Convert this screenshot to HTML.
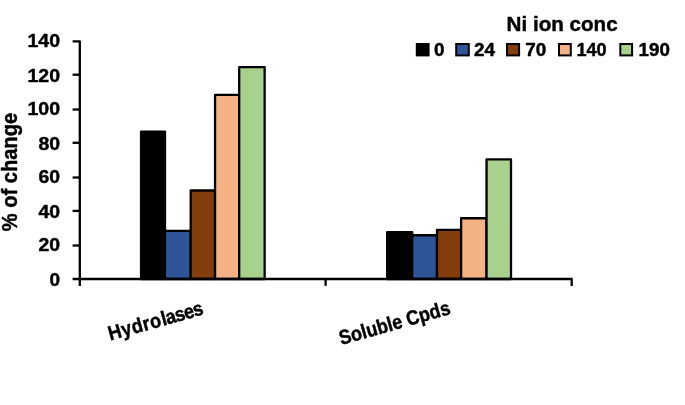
<!DOCTYPE html>
<html lang="en"><head><meta charset="utf-8"><title>Ni ion conc chart</title>
<style>html,body{margin:0;padding:0;background:#fff}body{width:685px;height:405px;overflow:hidden}svg{display:block}text{font-family:"Liberation Sans",sans-serif;font-weight:bold;fill:#000;stroke:#000;stroke-width:0.45px;stroke-linejoin:round}</style>
</head><body>
<svg width="685" height="405" viewBox="0 0 685 405">
<defs><filter id="soft" x="0" y="0" width="100%" height="100%" filterUnits="userSpaceOnUse"><feGaussianBlur stdDeviation="0.55"/></filter></defs>
<rect width="685" height="405" fill="#fff"/>
<g filter="url(#soft)">
<g stroke="#000" stroke-width="2.3" stroke-linejoin="round">
<rect x="141.05" y="131.75" width="23.95" height="147.25" fill="#000000"/>
<rect x="165.00" y="230.80" width="25.70" height="48.20" fill="#2F5597"/>
<rect x="190.70" y="190.50" width="24.35" height="88.50" fill="#843C0C"/>
<rect x="215.05" y="94.95" width="24.15" height="184.05" fill="#F4B183"/>
<rect x="239.20" y="67.10" width="25.45" height="211.90" fill="#A9D18E"/>
<rect x="387.20" y="232.05" width="25.00" height="46.95" fill="#000000"/>
<rect x="412.20" y="235.25" width="24.80" height="43.75" fill="#2F5597"/>
<rect x="437.00" y="229.80" width="24.10" height="49.20" fill="#843C0C"/>
<rect x="461.10" y="218.25" width="25.45" height="60.75" fill="#F4B183"/>
<rect x="486.55" y="159.40" width="24.45" height="119.60" fill="#A9D18E"/>
</g>
<g stroke="#000" stroke-width="2.3" fill="none" stroke-linecap="butt" stroke-linejoin="round">
<path d="M72.60 41.3H79.8V285.90"/>
<path d="M72.60 279.0H571.7V285.90"/>
<path d="M325.6 279.0V285.90"/>
<path d="M72.60 245.5H79.8"/>
<path d="M72.60 210.9H79.8"/>
<path d="M72.60 177.5H79.8"/>
<path d="M72.60 142.8H79.8"/>
<path d="M72.60 109.5H79.8"/>
<path d="M72.60 74.7H79.8"/>
</g>
<g font-size="18.8" text-anchor="end" style="stroke-width:0.2px">
<text x="60.1" y="285.95" textLength="10.6" lengthAdjust="spacingAndGlyphs">0</text>
<text x="60.1" y="251.15" textLength="21.6" lengthAdjust="spacingAndGlyphs">20</text>
<text x="60.1" y="217.85" textLength="21.6" lengthAdjust="spacingAndGlyphs">40</text>
<text x="60.1" y="183.15" textLength="21.6" lengthAdjust="spacingAndGlyphs">60</text>
<text x="60.1" y="149.65" textLength="21.6" lengthAdjust="spacingAndGlyphs">80</text>
<text x="60.1" y="115.15" textLength="32.6" lengthAdjust="spacingAndGlyphs">100</text>
<text x="60.1" y="81.65" textLength="32.6" lengthAdjust="spacingAndGlyphs">120</text>
<text x="60.1" y="46.85" textLength="32.6" lengthAdjust="spacingAndGlyphs">140</text>
</g>
<text transform="translate(17.3 231.3) rotate(-90)" font-size="21.2" textLength="118.4" lengthAdjust="spacingAndGlyphs">% of change</text>
<text transform="translate(110.2 340.5) rotate(-15.6)" font-size="20.2" textLength="98" lengthAdjust="spacingAndGlyphs" dx="0 0.5 0.5 0.5 0.5 0.9 -0.6 -0.7 -0.7 -0.7">Hydrolases</text>
<text transform="translate(341.3 345.0) rotate(-15.8)" font-size="20.2" textLength="114.5" lengthAdjust="spacingAndGlyphs">Soluble Cpds</text>
<text x="506.6" y="30.7" font-size="20.6" textLength="111" lengthAdjust="spacingAndGlyphs">Ni ion conc</text>
<g stroke="#000" stroke-width="2">
<rect x="416.8" y="44.0" width="11.8" height="11.4" fill="#000000"/>
<rect x="456.2" y="44.0" width="12.6" height="11.4" fill="#2F5597"/>
<rect x="507.0" y="44.0" width="12.1" height="11.4" fill="#843C0C"/>
<rect x="559.0" y="44.0" width="11.8" height="11.4" fill="#F4B183"/>
<rect x="620.3" y="44.0" width="11.8" height="11.4" fill="#A9D18E"/>
</g>
<g font-size="17.8" style="stroke-width:0.2px">
<text x="433.9" y="56.0" textLength="10.5" lengthAdjust="spacingAndGlyphs">0</text>
<text x="474.0" y="56.0" textLength="21.0" lengthAdjust="spacingAndGlyphs">24</text>
<text x="525.2" y="56.0" textLength="21.0" lengthAdjust="spacingAndGlyphs">70</text>
<text x="576.4" y="56.0" textLength="30.2" lengthAdjust="spacingAndGlyphs">140</text>
<text x="638.6" y="56.0" textLength="31.2" lengthAdjust="spacingAndGlyphs">190</text>
</g>
</g>
</svg></body></html>
